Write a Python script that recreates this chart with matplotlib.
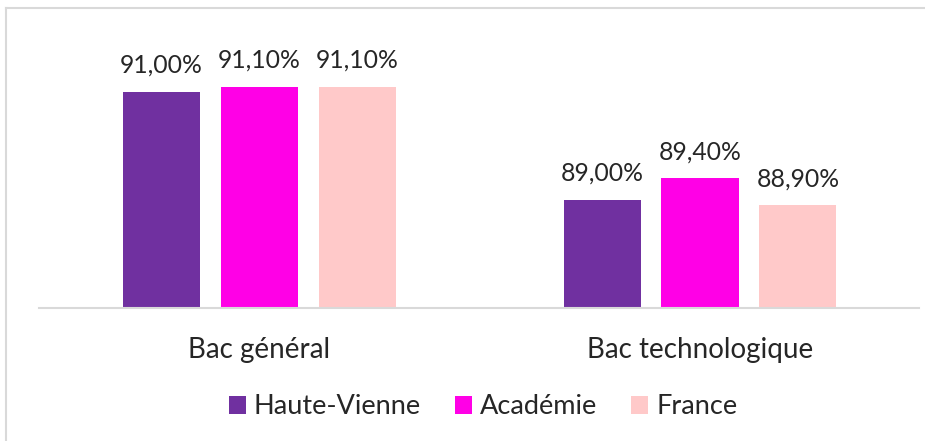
import matplotlib
matplotlib.use("Agg")
import matplotlib.pyplot as plt
from matplotlib.patches import Patch
from matplotlib.lines import Line2D
import numpy as np

categories = ["Bac général", "Bac technologique"]
series_names = ["Haute-Vienne", "Académie", "France"]
haute_vienne = [91.00, 89.00]
academie = [91.10, 89.40]
france = [91.10, 88.90]
colors = ["#7030A0", "#FF00E6", "#FFC9C9"]

plt.rcParams['font.family'] = ['Lato', 'DejaVu Sans']

fig = plt.figure(figsize=(9.25, 4.41), dpi=100)
ax = fig.add_axes([39/925, (441-308)/441, 880/925, 243/441])

x = np.arange(len(categories))
width = 0.175
step = 0.222
data = [haute_vienne, academie, france]
for i, (vals, c) in enumerate(zip(data, colors)):
    pos = x + (i - 1) * step
    bars = ax.bar(pos, [v - 87 for v in vals], width, bottom=87, color=c)
    for p, v in zip(pos, vals):
        ax.annotate(f"{v:.2f}%".replace(".", ","), (p, v), xytext=(0, 11),
                    textcoords="offset points", ha="center", va="bottom",
                    fontsize=17.8, color="#262626")

ax.set_xlim(-0.5, 1.497)
ax.set_ylim(87, 91.5)
for s in ["top", "right", "left"]:
    ax.spines[s].set_visible(False)
ax.spines["bottom"].set_color("#D9D9D9")
ax.spines["bottom"].set_linewidth(1.5)
ax.set_yticks([])
ax.set_xticks(x)
ax.set_xticklabels(categories, fontsize=20, color="#262626")
ax.tick_params(axis="x", length=0, pad=21)

handles = [Patch(facecolor=c, edgecolor="none") for c in colors]
fig.legend(handles, series_names, loc="center", bbox_to_anchor=(483/925, 1 - 407/441),
           ncol=3, frameon=False, fontsize=19.5, handlelength=0.63, handleheight=0.63,
           handletextpad=0.3, columnspacing=1.25, labelcolor="#262626")

# outer frame lines (top and left)
fig.add_artist(Line2D([6/925, 1], [1 - 8/441, 1 - 8/441], transform=fig.transFigure,
                      color="#D9D9D9", linewidth=1.5))
fig.add_artist(Line2D([6/925, 6/925], [0, 1 - 8/441], transform=fig.transFigure,
                      color="#D9D9D9", linewidth=1.5))

fig.savefig("out.png", dpi=100)
